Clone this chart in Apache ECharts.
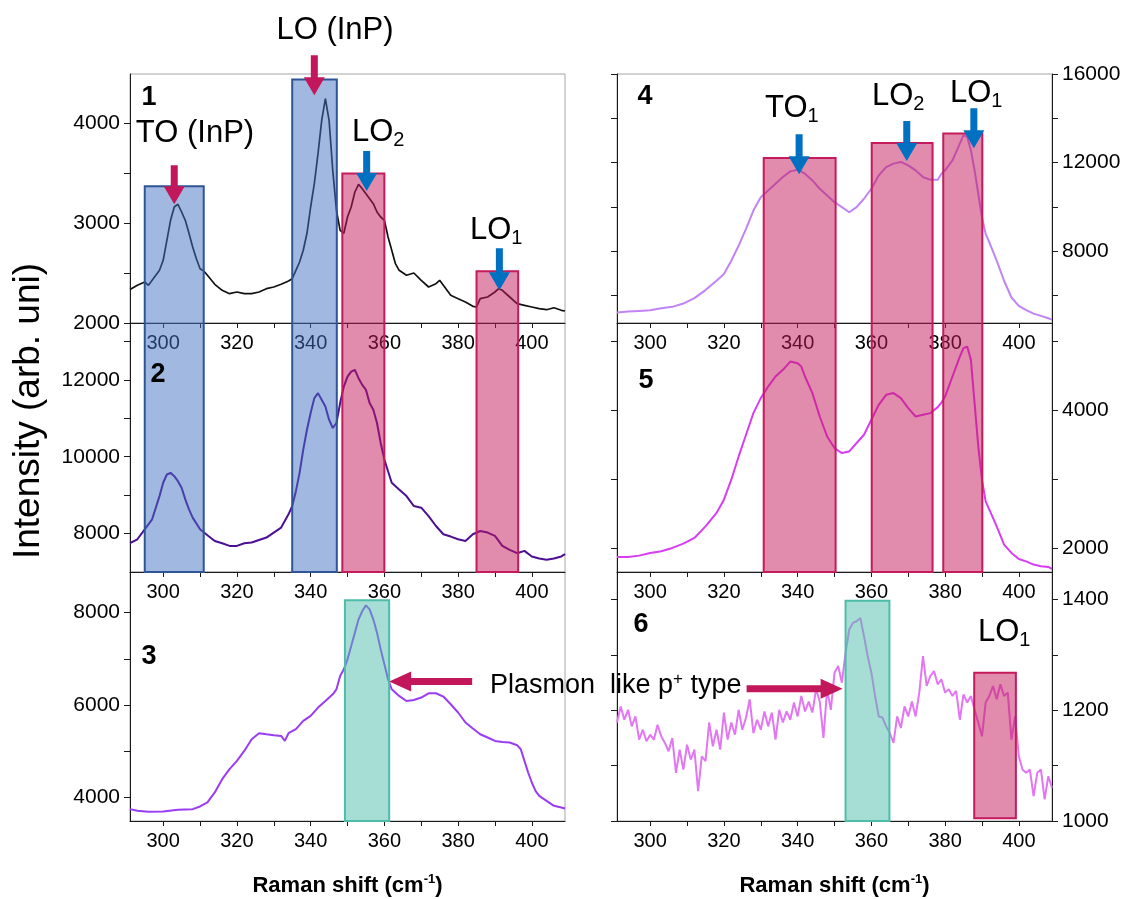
<!DOCTYPE html>
<html>
<head>
<meta charset="utf-8">
<script src="https://cdn.jsdelivr.net/npm/echarts@6/dist/echarts.min.js"></script>
<style>
  html, body { margin: 0; padding: 0; background: #fff; }
  #chart { width: 1121px; height: 899px; }
</style>
</head>
<body>
<div id="chart"></div>
<script>
// ---- data ----
const shift1 = [291,293,295,296,297,299,300,301,302,303,304,305,306,307,308,309,310,311,312,314,316,318,320,322,324,326,328,330,332,334,335,336,337,338,339,340,341,342,343,344,345,346,347,348,349,350,351,352,353,354,355,356,357,358,359,360,361,362,363,364,366,368,370,372,374,375,376,378,380,382,384,385,386,388,390,391,392,394,396,398,400,402,404,406,408,409];
const int1 = [2334,2377,2410,2377,2427,2527,2627,2827,3027,3160,3187,3110,3027,2897,2760,2643,2543,2520,2477,2387,2327,2293,2310,2293,2293,2310,2343,2360,2387,2420,2443,2527,2610,2727,2897,3160,3393,3693,4027,4243,4027,3527,3127,2927,2897,3060,3160,3310,3387,3343,3293,3243,3193,3110,3060,3027,2860,2727,2593,2527,2477,2500,2427,2360,2393,2427,2377,2277,2243,2210,2167,2160,2243,2260,2310,2343,2327,2260,2193,2177,2160,2143,2133,2153,2127,2120];

const shift2 = [291,293,295,297,299,300,301,302,303,304,305,306,307,308,310,312,314,316,318,320,322,324,326,328,330,332,334,335,336,337,338,339,340,341,342,343,344,345,346,347,348,349,350,351,352,353,354,355,356,357,358,359,360,361,362,364,366,368,370,372,374,376,378,380,382,384,386,388,390,392,394,396,398,400,402,404,406,408,409];
const int2 = [7749,7852,8111,8371,8975,9322,9537,9581,9493,9363,9192,8889,8630,8415,8111,7956,7808,7749,7679,7679,7749,7767,7834,7896,8026,8156,8500,8715,9104,9581,10185,10703,11136,11525,11655,11481,11307,10963,10747,10877,11396,11826,12085,12215,12259,12043,11870,11740,11396,11222,10877,10359,9926,9623,9322,9148,8975,8715,8674,8456,8197,7982,7922,7852,7808,7982,8067,8026,7938,7679,7575,7489,7549,7404,7352,7316,7352,7404,7463];

const shift3 = [291,293,296,300,304,308,310,312,314,316,318,320,322,324,326,328,330,332,333,334,336,338,340,342,344,346,347,348,349,350,351,352,353,354,355,356,357,358,359,360,361,362,364,366,368,370,372,374,376,378,380,382,384,386,388,390,392,394,396,397,398,399,400,401,402,404,406,408,409];
const int3 = [3747,3711,3689,3696,3732,3747,3805,3892,4108,4396,4612,4791,5007,5260,5390,5368,5347,5332,5224,5390,5477,5656,5764,5946,6088,6233,6341,6629,6774,6990,7278,7567,7855,8035,8158,8071,7855,7567,7206,6882,6558,6341,6197,6088,6110,6162,6255,6255,6184,6017,5838,5622,5492,5368,5297,5224,5202,5189,5131,5044,4791,4540,4324,4143,4035,3927,3818,3784,3762];

const shift4 = [291,294,297,300,303,306,309,312,315,318,320,322,324,326,328,329,330,332,334,336,338,340,342,344,346,348,350,352,354,356,358,360,362,364,366,368,370,372,374,376,378,379,380,382,384,385,386,387,388,389,390,391,392,394,396,398,400,402,404,406,408,409];
const int4 = [5220,5266,5297,5329,5419,5479,5628,5873,6236,6658,6960,7565,8245,9002,9832,10136,10436,10740,11043,11343,11601,11678,11497,11193,10816,10513,10209,9982,9755,9982,10363,10816,11420,11796,11950,12028,11873,11646,11343,11225,11225,11497,11646,12100,12857,13234,13157,12553,11646,10590,9529,8776,8395,7565,6658,5901,5524,5329,5175,5071,4966,4903];

const shift5 = [291,294,297,300,303,306,309,312,315,318,320,322,324,326,328,330,332,334,336,338,340,341,342,344,346,348,350,352,354,356,358,360,362,364,366,368,370,372,374,376,378,379,380,382,384,385,386,387,388,389,390,391,392,394,396,398,400,402,404,406,408,409];
const int5 = [1869,1869,1888,1927,1951,2000,2062,2145,2314,2508,2701,2992,3330,3645,3960,4178,4346,4492,4589,4709,4686,4637,4492,4251,3911,3620,3452,3379,3403,3525,3645,3863,4081,4226,4251,4178,4033,3911,3936,3960,4047,4114,4201,4492,4782,4904,4927,4734,4105,3475,2992,2677,2556,2314,2048,1927,1840,1805,1758,1733,1724,1695];

const shift6 = [291,292,293,294,295,296,297,298,299,300,301,302,303,304,305,306,307,308,309,310,311,312,313,314,315,316,317,318,319,320,321,322,323,324,325,326,327,328,329,330,331,332,333,334,335,336,337,338,339,340,341,342,343,344,345,346,347,348,349,350,351,352,353,354,355,356,357,358,359,360,361,362,363,364,365,366,367,368,369,370,371,372,373,374,375,376,377,378,379,380,381,382,383,384,385,386,387,388,389,390,391,392,393,394,395,396,397,398,399,400,401,402,403,404,405,406,407,408,409];
const int6 = [1178,1207,1183,1201,1171,1189,1147,1165,1144,1156,1147,1174,1153,1141,1126,1150,1087,1129,1093,1138,1111,1129,1054,1117,1108,1178,1135,1165,1129,1196,1147,1178,1156,1201,1165,1187,1220,1159,1183,1165,1198,1171,1196,1147,1201,1178,1198,1183,1214,1189,1226,1198,1216,1196,1238,1216,1150,1238,1201,1268,1280,1250,1304,1346,1358,1361,1367,1334,1298,1268,1226,1189,1187,1171,1159,1141,1189,1168,1207,1189,1216,1189,1232,1298,1244,1262,1271,1247,1256,1232,1238,1226,1235,1183,1229,1214,1226,1201,1178,1153,1214,1226,1244,1220,1247,1226,1232,1147,1189,1117,1093,1087,1093,1045,1087,1093,1039,1081,1060];

// ---- axis ticks ----
const xLabels = [300, 320, 340, 360, 380, 400];
const xTicks = [300, 310, 320, 330, 340, 350, 360, 370, 380, 390, 400];
const yRange = [[2000, 4490], [7000, 13480], [3490, 8880], [4750, 16000], [1650, 5270], [1000, 1450]];
const yLabels = [[2000, 3000, 4000], [8000, 10000, 12000], [4000, 6000, 8000], [8000, 12000, 16000], [2000, 4000], [1000, 1200, 1400]];
const yTicks = [[2000, 2500, 3000, 3500, 4000], [8000, 9000, 10000, 11000, 12000, 13000], [4000, 5000, 6000, 7000, 8000],
  [6000, 8000, 10000, 12000, 14000, 16000], [2000, 3000, 4000, 5000], [1000, 1100, 1200, 1300, 1400]];
const lineColors = ['#111111', '#4b0f94', '#9a3cf5', '#c183f5', '#d93cf5', '#e276f3'];

// highlighted bands: [top panel, bottom panel, x0, x1, yTop, yBottom, kind]
const bands = [
  [0, 1, 295.0, 311.0, 3367, 7000, 'blue'],
  [0, 1, 335.0, 347.1, 4434, 7000, 'blue'],
  [0, 1, 348.6, 360.0, 3494, 7000, 'pink'],
  [0, 1, 385.0, 396.3, 2517, 7000, 'pink'],
  [2, 2, 349.3, 361.3, 8266, 3490, 'teal'],
  [3, 4, 330.8, 350.3, 12203, 1650, 'pink'],
  [3, 4, 360.1, 376.6, 12884, 1650, 'pink'],
  [3, 4, 379.5, 390.1, 13310, 1650, 'pink'],
  [5, 5, 353.0, 364.9, 1398, 1000, 'teal'],
  [5, 5, 387.9, 399.2, 1268, 1005, 'pink']
];
// arrows pointing at peaks: [panel, x, y of tip, length px, direction, colour]
const arrows = [
  [0, 303.0, 3187, 39, 'down', 'red'],
  [0, 341.0, 4277, 40, 'down', 'red'],
  [0, 355.2, 3320, 40, 'down', 'blue'],
  [0, 391.2, 2327, 42, 'down', 'blue'],
  [3, 340.4, 11465, 40, 'down', 'blue'],
  [3, 369.6, 12068, 40, 'down', 'blue'],
  [3, 387.8, 12644, 40, 'down', 'blue'],
  [2, 361.3, 6508, 83, 'left', 'red'],
  [5, 352.2, 1239, 96, 'right', 'red']
];

const FONT = '"Liberation Sans", Arial, Helvetica, sans-serif';
const COL_L = [130, 617];
const ROW_T = [74, 323, 572];
const GRID_W = 435, ROW_H = 249;
const BAND_STYLE = {
  blue: { fill: 'rgba(68,114,196,0.5)', stroke: '#2f5597' },
  pink: { fill: 'rgba(196,24,91,0.5)', stroke: '#c51a5c' },
  teal: { fill: 'rgba(78,190,172,0.5)', stroke: '#4dbdaa' }
};
const ARROW_COLOR = { red: '#c2185b', blue: '#0070c0' };

const shifts = [shift1, shift2, shift3, shift4, shift5, shift6];
const ints = [int1, int2, int3, int4, int5, int6];

const grids = [], xAxes = [], yAxes = [], series = [];
const panelY = [];
for (let p = 0; p < 6; p++) {
  const col = p < 3 ? 0 : 1, row = p % 3;
  grids.push({
    left: COL_L[col], top: ROW_T[row], width: GRID_W, height: ROW_H,
    show: true, borderColor: '#a6a6a6', borderWidth: 1, outerBoundsMode: 'none'
  });
  xAxes.push({
    gridIndex: p, type: 'value', min: 291, max: 409, position: 'bottom',
    axisLine: { show: true, onZero: false, lineStyle: { color: '#1a1a1a' } },
    axisTick: { show: true, customValues: xTicks, length: 5, lineStyle: { color: '#1a1a1a' } },
    axisLabel: { customValues: xLabels, margin: 10, fontSize: 20, color: '#000', fontFamily: FONT, formatter: v => String(v) },
    splitLine: { show: false }
  });
  const yBase = {
    gridIndex: p, type: 'value', min: yRange[p][0], max: yRange[p][1],
    axisLine: { show: true, onZero: false, lineStyle: { color: '#1a1a1a' } },
    axisTick: { show: true, customValues: yTicks[p], length: 6, lineStyle: { color: '#1a1a1a' } },
    axisLabel: { customValues: yLabels[p], margin: 10, fontSize: 21, color: '#000', fontFamily: FONT, formatter: v => String(v) },
    splitLine: { show: false }
  };
  panelY.push(yAxes.length);
  if (col === 0) {
    yAxes.push(Object.assign({}, yBase, { position: 'left' }));
  } else {
    yAxes.push(Object.assign({}, yBase, { position: 'right' }));
    yAxes.push(Object.assign({}, yBase, { position: 'left', axisLabel: { show: false } }));
  }
  series.push({
    type: 'line', xAxisIndex: p, yAxisIndex: panelY[p],
    data: shifts[p].map((s, i) => [s, ints[p][i]]),
    showSymbol: false, symbol: 'none',
    lineStyle: { color: lineColors[p], width: p === 0 ? 1.7 : 2 },
    z: 2
  });
}

const chart = echarts.init(document.getElementById('chart'));
chart.setOption({
  animation: false,
  grid: grids, xAxis: xAxes, yAxis: yAxes, series: series
});

const toPx = (p, x, y) => chart.convertToPixel({ xAxisIndex: p, yAxisIndex: panelY[p] }, [x, y]);

const elems = [];
bands.forEach(([pt, pb, x0, x1, yt, yb, kind]) => {
  const a = toPx(pt, x0, yt), b = toPx(pb, x1, yb);
  elems.push({
    type: 'rect', z: 100,
    shape: { x: a[0], y: a[1], width: b[0] - a[0], height: b[1] - a[1] },
    style: { fill: BAND_STYLE[kind].fill, stroke: BAND_STYLE[kind].stroke, lineWidth: 2 }
  });
});

arrows.forEach(([p, x, y, len, dir, col]) => {
  const [tx, ty] = toPx(p, x, y);
  const hw = 10.5, sw = 3.5, hl = dir === 'down' ? 18 : 22, hwH = 10;
  let pts;
  if (dir === 'down') {
    pts = [[tx, ty], [tx + hw, ty - hl], [tx + sw, ty - hl], [tx + sw, ty - len], [tx - sw, ty - len], [tx - sw, ty - hl], [tx - hw, ty - hl]];
  } else {
    const d = dir === 'left' ? 1 : -1;
    pts = [[tx, ty], [tx + d * hl, ty - hwH], [tx + d * hl, ty - sw], [tx + d * len, ty - sw], [tx + d * len, ty + sw], [tx + d * hl, ty + sw], [tx + d * hl, ty + hwH]];
  }
  elems.push({ type: 'polygon', z: 110, shape: { points: pts }, style: { fill: ARROW_COLOR[col] } });
});

function label(x, y, text, size, extra) {
  elems.push({
    type: 'text', z: 120, x: x, y: y,
    style: Object.assign({ text: text, fontSize: size, fontFamily: FONT, fill: '#000', align: 'left', verticalAlign: 'middle' }, extra || {})
  });
}
const subRich = { m: { fontSize: 31, lineHeight: 36, fontFamily: FONT }, s: { fontSize: 20, lineHeight: 8, verticalAlign: 'bottom', fontFamily: FONT } };
function subLabel(x, y, main, sub) {
  label(x, y, '{m|' + main + '}{s|' + sub + '}', 31, { rich: subRich });
}

// panel numbers
[[149, 98, '1'], [158, 375, '2'], [149, 657, '3'], [645, 97, '4'], [646, 381, '5'], [641, 625, '6']].forEach(([x, y, t]) => {
  label(x, y, t, 27, { fontWeight: 'bold', align: 'center' });
});
label(195, 133, 'TO (InP)', 31, { align: 'center' });
label(335, 30, 'LO (InP)', 31, { align: 'center' });
subLabel(352, 132, 'LO', '2');
subLabel(470, 230, 'LO', '1');
subLabel(765, 108, 'TO', '1');
subLabel(872, 96, 'LO', '2');
subLabel(950, 93, 'LO', '1');
subLabel(978, 632, 'LO', '1');
label(490, 686, '{t|Plasmon  like p}{u|+}{t| type}', 27, {
  rich: { t: { fontSize: 27, lineHeight: 30, fontFamily: FONT }, u: { fontSize: 17, lineHeight: 8, verticalAlign: 'top', fontFamily: FONT } }
});
// axis titles
label(29, 411, 'Intensity (arb. uni)', 37, { align: 'center' });
elems[elems.length - 1].rotation = Math.PI / 2;
[347.5, 834.5].forEach(cx => {
  label(cx, 886, '{b|Raman shift (cm}{s|-1}{b|)}', 22, {
    align: 'center',
    rich: { b: { fontSize: 22, fontWeight: 'bold', lineHeight: 26, fontFamily: FONT }, s: { fontSize: 13, fontWeight: 'bold', lineHeight: 8, verticalAlign: 'top', fontFamily: FONT } }
  });
});

chart.setOption({ graphic: elems });
</script>
</body>
</html>
